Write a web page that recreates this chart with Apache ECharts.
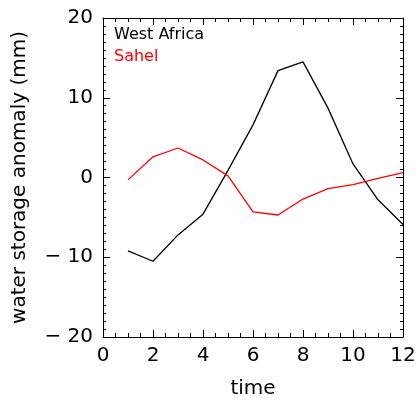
<!DOCTYPE html>
<html><head><meta charset="utf-8">
<script src="https://cdn.jsdelivr.net/npm/echarts@6/dist/echarts.min.js"></script>
<style>html,body{margin:0;padding:0;background:#fff}#c{width:417px;height:407px}</style>
</head><body><div id="c"></div>
<script>
const months = [1,2,3,4,5,6,7,8,9,10,11,12];
const westAfrica = [-9.2,-10.5,-7.2,-4.6,0.9,6.6,13.4,14.5,8.7,1.7,-2.8,-5.9];
const sahel = [-0.3,2.6,3.7,2.2,0.2,-4.3,-4.7,-2.7,-1.4,-0.9,-0.1,0.6];
const seriesNames = ['West Africa','Sahel'];
const font = 'DejaVu Sans';
const fmtY = v => v < 0 ? '\u2212 ' + Math.abs(v) : String(v);
const axisCommon = {
  axisLine:{show:true,onZero:false,lineStyle:{color:'#000',width:1}},
  axisTick:{show:true,inside:true,length:7,lineStyle:{color:'#000'}},
  splitLine:{show:false}
};
const xMinor = {minorTick:{show:true,splitNumber:4,length:4,lineStyle:{color:'#000'}}};
const yMinor = {minorTick:{show:true,splitNumber:10,length:3,lineStyle:{color:'#000'}}};
const chart = echarts.init(document.getElementById('c'));
chart.setOption({
  animation:false,
  grid:{left:103,right:14,top:18,bottom:70,outerBoundsMode:'none',containLabel:false},
  xAxis:[
    Object.assign({type:'value',min:0,max:12,interval:2,position:'bottom',
      name:'time',nameLocation:'middle',nameGap:42,
      nameTextStyle:{fontFamily:font,fontSize:20,color:'#000'},
      axisLabel:{fontFamily:font,fontSize:20,color:'#000',margin:9}},
      axisCommon, xMinor),
    Object.assign({type:'value',min:0,max:12,interval:2,position:'top',axisLabel:{show:false}},
      axisCommon, xMinor)
  ],
  yAxis:[
    Object.assign({type:'value',min:-20,max:20,interval:10,position:'left',
      name:'water storage anomaly (mm)',nameLocation:'middle',nameGap:73,
      nameTextStyle:{fontFamily:font,fontSize:20,color:'#000'},
      axisLabel:{fontFamily:font,fontSize:20,color:'#000',margin:10,formatter:fmtY}},
      axisCommon, yMinor),
    Object.assign({type:'value',min:-20,max:20,interval:10,position:'right',axisLabel:{show:false}},
      axisCommon, yMinor)
  ],
  legend:{show:true,left:104,top:22,orient:'vertical',itemGap:6,icon:'none',itemWidth:0,
    textStyle:{fontFamily:font,fontSize:16},
    data:[{name:seriesNames[0],textStyle:{color:'#000'}},{name:seriesNames[1],textStyle:{color:'#ff0000'}}]},
  series:[
    {name:seriesNames[0],type:'line',data:months.map((m,i)=>[m,westAfrica[i]]),showSymbol:false,
      lineStyle:{color:'#000',width:1.3},itemStyle:{color:'#000'}},
    {name:seriesNames[1],type:'line',data:months.map((m,i)=>[m,sahel[i]]),showSymbol:false,
      lineStyle:{color:'#ff0000',width:1.3},itemStyle:{color:'#ff0000'}}
  ]
});
</script></body></html>
